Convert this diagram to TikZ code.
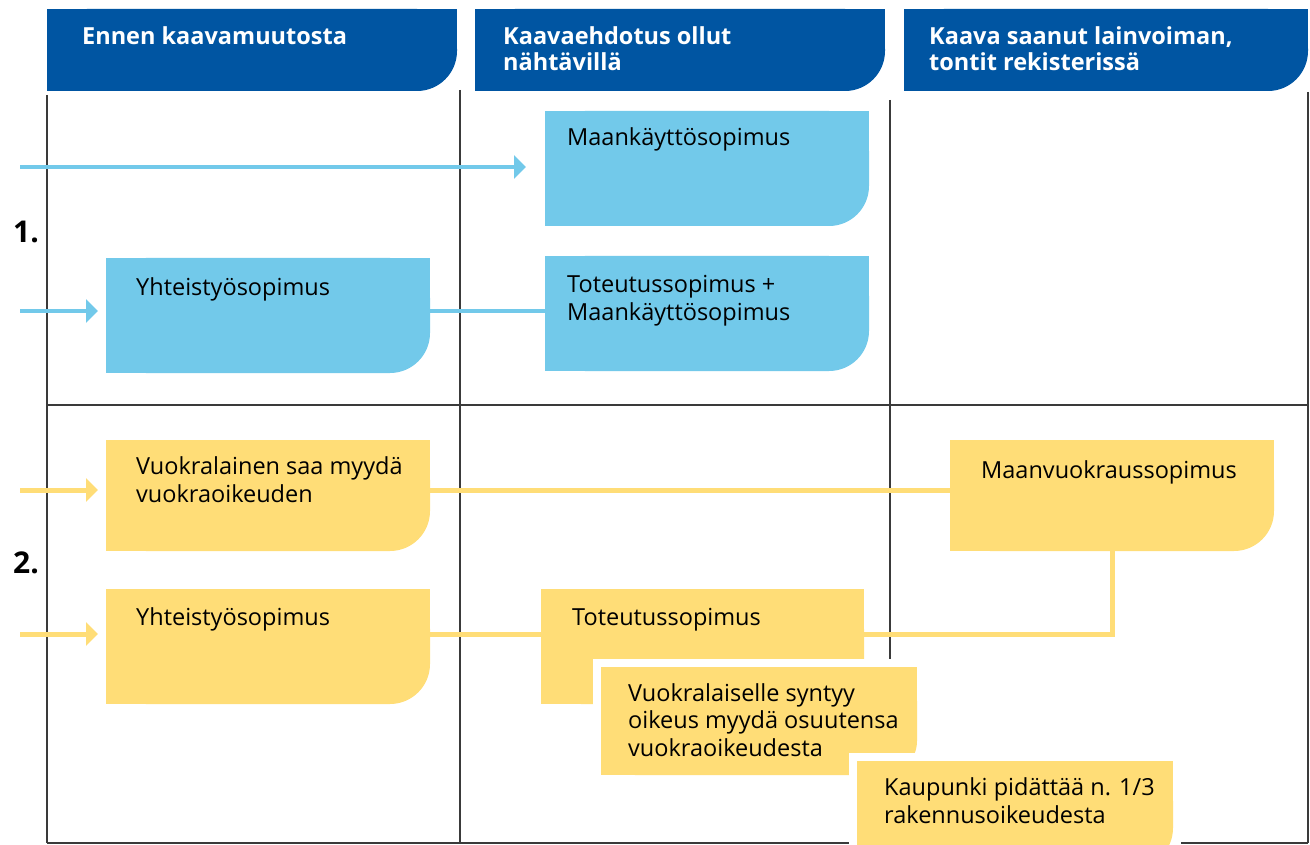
\documentclass[tikz,border=0pt]{standalone}
\usepackage{fontspec}
\setmainfont{Open Sans}
\usetikzlibrary{arrows.meta}
\definecolor{hdrblue}{HTML}{0055A2}
\definecolor{lblue}{HTML}{72C9EA}
\definecolor{lyellow}{HTML}{FFDD77}
\definecolor{gridc}{HTML}{3A3A3A}

% fill an area node with one rounded (bottom-right) corner
\newcommand\areafill[3]{%
  \fill[#3, rounded corners=#2pt] (#1.north west) rectangle (#1.south east);
  \fill[#3] (#1.north west) rectangle ([xshift=-#2pt]#1.south east);
  \fill[#3] (#1.north west) rectangle ([yshift=#2pt]#1.south east);
}
\newcommand\areahalo[1]{%
  \fill[white] ([xshift=-8pt,yshift=8pt]#1.north west) rectangle ([xshift=8pt,yshift=-8pt]#1.south east);
}

\begin{document}
\begin{tikzpicture}[x=1pt,y=-1pt,
  frame/.style={draw=gridc, line width=1.2pt},
  area/.style={inner sep=0pt, outer sep=0pt, anchor=north west},
  hdrtext/.style={anchor=base west, inner sep=0pt, text=white, align=left,
    font=\fontsize{23.5}{26}\selectfont\bfseries},
  boxtext/.style={anchor=base west, inner sep=0pt, align=left,
    font=\fontsize{23.5}{27.5}\selectfont},
  numtext/.style={anchor=base west, inner sep=0pt, font=\fontsize{30}{30}\selectfont\bfseries},
  lineB/.style={draw=lblue, line width=3.5pt},
  lineY/.style={draw=lyellow, line width=5pt},
  arrB/.style={lineB, -{Triangle[length=12pt,width=23pt]}},
  arrY/.style={lineY, -{Triangle[length=12pt,width=23pt]}},
]
\useasboundingbox (0,0) rectangle (1310,845);

% ---------- area nodes (positions) ----------
\node[area, minimum width=410pt, minimum height=82pt] (h1) at (47,9) {};
\node[area, minimum width=410pt, minimum height=82pt] (h2) at (475,9) {};
\node[area, minimum width=404pt, minimum height=82pt] (h3) at (904,9) {};

\node[area, minimum width=324pt, minimum height=115pt] (mk1) at (545,111) {};
\node[area, minimum width=324pt, minimum height=115pt] (yh1) at (106,258) {};
\node[area, minimum width=324pt, minimum height=115pt] (tm1) at (545,256) {};

\node[area, minimum width=324pt, minimum height=111pt] (vk2) at (106,440) {};
\node[area, minimum width=324pt, minimum height=111pt] (mv2) at (950,440) {};
\node[area, minimum width=324pt, minimum height=115pt] (yh2) at (106,589) {};
\node[area, minimum width=323pt, minimum height=115pt] (to2) at (541,589) {};
\node[area, minimum width=316pt, minimum height=108pt] (vs2) at (601,667) {};
\node[area, minimum width=316pt, minimum height=107pt] (kp2) at (857,761) {};

% ---------- grid ----------
\coordinate (g1t) at (47,95);   \coordinate (g1b) at (47,843);
\coordinate (g2t) at (460,90);  \coordinate (g2b) at (460,843);
\coordinate (g3t) at (890,100); \coordinate (g3b) at (890,843);
\coordinate (g4t) at (1308,92); \coordinate (g4b) at (1308,843);
\coordinate (gml) at (47,405);  \coordinate (gmr) at (1308,405);
\draw[frame] (g1t) -- (g1b);
\draw[frame] (g2t) -- (g2b);
\draw[frame] (g3t) -- (g3b);
\draw[frame] (g4t) -- (g4b);
\draw[frame] (gml) -- (gmr);
\draw[frame] (g1b) -- (g4b);

% ---------- headers ----------
\areafill{h1}{40}{hdrblue}
\areafill{h2}{40}{hdrblue}
\areafill{h3}{40}{hdrblue}
\node[hdrtext] (h1t) at (82,45) {Ennen kaavamuutosta};
\node[hdrtext] (h2t) at (503,71) {Kaavaehdotus ollut\\nähtävillä};
\node[hdrtext] (h3t) at (929,71) {Kaava saanut lainvoiman,\\tontit rekisterissä};

% ---------- row numbers ----------
\node[numtext] (n1) at (13,243) {1.};
\node[numtext] (n2) at (13,573) {2.};

% ---------- connectors ----------
\coordinate (s1) at (20,167);
\coordinate (s2) at (20,311);
\coordinate (s3) at (20,490);
\coordinate (s4) at (20,634);
\draw[arrB, shorten >=19pt] (s1) -- (s1 -| mk1.west);
\draw[arrB, shorten >=8pt] (s2) -- (s2 -| yh1.west);
\draw[lineB] (s2 -| yh1.east) -- (s2 -| tm1.west);
\draw[arrY, shorten >=8pt] (s3) -- (s3 -| vk2.west);
\draw[lineY] (s3 -| vk2.east) -- (s3 -| mv2.west);
\draw[arrY, shorten >=8pt] (s4) -- (s4 -| yh2.west);
\draw[lineY] (s4 -| yh2.east) -- (s4 -| to2.west);
\draw[lineY] (s4 -| to2.east) -| (mv2.south);

% ---------- boxes ----------
\areafill{mk1}{40}{lblue}
\areafill{yh1}{40}{lblue}
\areafill{tm1}{40}{lblue}
\areafill{vk2}{40}{lyellow}
\areafill{mv2}{40}{lyellow}
\areafill{yh2}{40}{lyellow}
\areafill{to2}{40}{lyellow}
\areahalo{vs2}
\areafill{vs2}{34}{lyellow}
\areahalo{kp2}
\areafill{kp2}{40}{lyellow}

% ---------- box texts ----------
\node[boxtext] (mk1t) at (567,146) {Maankäyttösopimus};
\node[boxtext] (yh1t) at (136,295) {Yhteistyösopimus};
\node[boxtext] (tm1t) at (567,320) {Toteutussopimus +\\Maankäyttösopimus};
\node[boxtext] (vk2t) at (136,502) {Vuokralainen saa myydä\\vuokraoikeuden};
\node[boxtext] (mv2t) at (981,478) {Maanvuokraussopimus};
\node[boxtext] (yh2t) at (136,625) {Yhteistyösopimus};
\node[boxtext] (to2t) at (572,625) {Toteutussopimus};
\node[boxtext] (vs2t) at (628,756) {Vuokralaiselle syntyy\\oikeus myydä osuutensa\\vuokraoikeudesta};
\node[boxtext] (kp2t) at (884,823) {Kaupunki pidättää n. 1/3\\rakennusoikeudesta};
\end{tikzpicture}
\end{document}
